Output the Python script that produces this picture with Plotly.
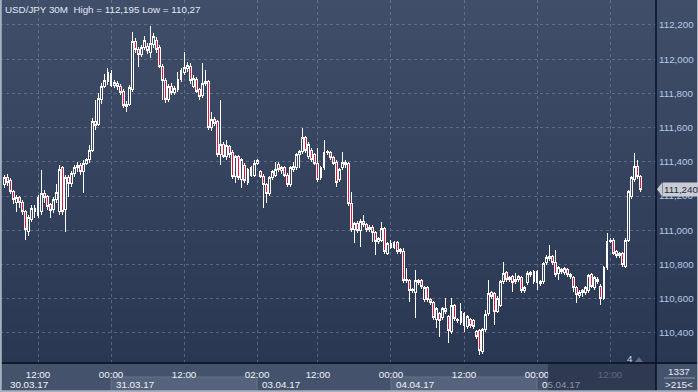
import plotly.graph_objects as go

# ---------------- data (USD/JPY, 30-minute candles) ----------------
opens = [
    111.265, 111.306, 111.288, 111.224, 111.165, 111.189, 111.160, 111.107, 110.990, 111.060,
    111.130, 111.089, 111.107, 111.212, 111.195, 111.148, 111.119, 111.177, 111.107, 111.364,
    111.119, 111.306, 111.271, 111.329, 111.364, 111.376, 111.341, 111.393, 111.411, 111.469,
    111.633, 111.621, 111.762, 111.843, 111.867, 111.919, 111.849, 111.855, 111.843, 111.814,
    111.721, 111.738, 111.820, 112.101, 112.054, 112.030, 112.066, 112.077, 112.042, 112.083,
    112.112, 112.066, 111.960, 111.873, 111.762, 111.843, 111.808, 111.820, 111.884, 111.925,
    111.943, 111.960, 111.843, 111.884, 111.820, 111.785, 111.855, 111.867, 111.598, 111.645,
    111.633, 111.440, 111.504, 111.429, 111.487, 111.452, 111.312, 111.429, 111.294, 111.376,
    111.277, 111.364, 111.323, 111.393, 111.341, 111.317, 111.265, 111.212, 111.306, 111.323,
    111.382, 111.347, 111.364, 111.323, 111.265, 111.353, 111.364, 111.440, 111.458, 111.540,
    111.429, 111.469, 111.440, 111.393, 111.306, 111.364, 111.452, 111.452, 111.423, 111.399,
    111.294, 111.364, 111.399, 111.388, 111.154, 111.002, 111.037, 110.996, 111.054, 111.031,
    111.002, 111.019, 110.984, 110.932, 110.943, 111.008, 110.867, 110.920, 110.902, 110.926,
    110.873, 110.873, 110.704, 110.704, 110.645, 110.639, 110.704, 110.704, 110.593, 110.663,
    110.593, 110.575, 110.476, 110.511, 110.488, 110.540, 110.493, 110.406, 110.558, 110.476,
    110.523, 110.511, 110.435, 110.476, 110.470, 110.406, 110.412, 110.289, 110.417, 110.511,
    110.634, 110.628, 110.528, 110.563, 110.698, 110.751, 110.710, 110.727, 110.698, 110.710,
    110.721, 110.645, 110.692, 110.739, 110.698, 110.756, 110.686, 110.698, 110.809, 110.832,
    110.844, 110.809, 110.745, 110.768, 110.751, 110.768, 110.739, 110.721, 110.663, 110.616,
    110.639, 110.634, 110.645, 110.739, 110.663, 110.715, 110.674, 110.604, 110.780, 110.937,
    110.943, 110.873, 110.850, 110.862, 110.791, 110.943, 111.195, 111.294, 111.370, 111.312,
]
highs = [
    111.323, 111.329, 111.306, 111.236, 111.206, 111.201, 111.177, 111.119, 111.089, 111.148,
    111.148, 111.206, 111.353, 111.236, 111.206, 111.160, 111.195, 111.271, 111.382, 111.376,
    111.323, 111.323, 111.347, 111.382, 111.399, 111.393, 111.411, 111.423, 111.499, 111.656,
    111.762, 111.803, 111.861, 111.914, 111.949, 111.937, 111.878, 111.873, 111.855, 111.826,
    111.756, 111.849, 112.159, 112.124, 112.071, 112.083, 112.136, 112.095, 112.195, 112.153,
    112.130, 112.083, 111.972, 111.890, 111.855, 111.861, 111.843, 111.925, 111.949, 112.042,
    111.984, 111.978, 111.908, 111.896, 111.832, 111.978, 111.937, 111.878, 111.692, 111.662,
    111.645, 111.762, 111.516, 111.528, 111.499, 111.469, 111.440, 111.440, 111.423, 111.393,
    111.364, 111.376, 111.411, 111.417, 111.353, 111.329, 111.277, 111.317, 111.353, 111.399,
    111.399, 111.376, 111.376, 111.335, 111.376, 111.399, 111.452, 111.469, 111.598, 111.551,
    111.516, 111.481, 111.452, 111.481, 111.376, 111.528, 111.469, 111.464, 111.434, 111.411,
    111.364, 111.458, 111.411, 111.399, 111.224, 111.048, 111.054, 111.066, 111.089, 111.043,
    111.031, 111.031, 110.996, 110.961, 111.048, 111.019, 110.932, 110.943, 110.937, 110.937,
    110.897, 110.897, 110.780, 110.715, 110.663, 110.768, 110.715, 110.715, 110.674, 110.674,
    110.604, 110.587, 110.552, 110.523, 110.552, 110.604, 110.505, 110.604, 110.569, 110.488,
    110.575, 110.523, 110.505, 110.488, 110.482, 110.417, 110.423, 110.429, 110.534, 110.710,
    110.645, 110.639, 110.616, 110.710, 110.815, 110.762, 110.733, 110.739, 110.751, 110.739,
    110.733, 110.674, 110.762, 110.762, 110.768, 110.768, 110.710, 110.815, 110.856, 110.914,
    110.856, 110.885, 110.791, 110.780, 110.786, 110.780, 110.751, 110.733, 110.674, 110.651,
    110.657, 110.674, 110.745, 110.751, 110.733, 110.727, 110.686, 110.791, 110.984, 110.955,
    110.955, 110.885, 110.873, 110.873, 110.955, 111.236, 111.317, 111.452, 111.411, 111.323,
]
lows = [
    111.247, 111.259, 111.212, 111.154, 111.107, 111.130, 111.089, 110.943, 110.967, 111.048,
    111.072, 111.072, 111.089, 111.160, 111.119, 111.072, 111.101, 111.160, 111.089, 111.089,
    110.990, 111.195, 111.253, 111.312, 111.341, 111.323, 111.218, 111.382, 111.393, 111.458,
    111.586, 111.610, 111.738, 111.832, 111.849, 111.838, 111.832, 111.820, 111.791, 111.715,
    111.692, 111.727, 111.808, 112.036, 111.954, 112.013, 112.054, 112.030, 112.007, 112.066,
    112.036, 111.949, 111.762, 111.744, 111.750, 111.791, 111.791, 111.808, 111.867, 111.908,
    111.925, 111.855, 111.832, 111.803, 111.762, 111.773, 111.843, 111.586, 111.580, 111.610,
    111.429, 111.382, 111.423, 111.411, 111.423, 111.300, 111.277, 111.294, 111.247, 111.277,
    111.265, 111.312, 111.312, 111.382, 111.306, 111.130, 111.160, 111.201, 111.294, 111.312,
    111.341, 111.329, 111.312, 111.253, 111.253, 111.341, 111.353, 111.364, 111.446, 111.452,
    111.417, 111.399, 111.382, 111.282, 111.294, 111.353, 111.440, 111.411, 111.382, 111.253,
    111.282, 111.353, 111.364, 111.142, 110.990, 110.926, 110.984, 110.902, 111.019, 110.990,
    110.990, 110.932, 110.856, 110.920, 110.932, 110.862, 110.856, 110.891, 110.891, 110.862,
    110.862, 110.692, 110.692, 110.581, 110.634, 110.488, 110.680, 110.657, 110.581, 110.581,
    110.563, 110.476, 110.429, 110.377, 110.476, 110.511, 110.341, 110.394, 110.470, 110.458,
    110.447, 110.406, 110.423, 110.429, 110.423, 110.365, 110.270, 110.277, 110.406, 110.499,
    110.598, 110.447, 110.517, 110.552, 110.686, 110.698, 110.698, 110.639, 110.686, 110.698,
    110.634, 110.634, 110.680, 110.727, 110.686, 110.651, 110.674, 110.686, 110.797, 110.821,
    110.797, 110.727, 110.710, 110.745, 110.739, 110.727, 110.715, 110.639, 110.575, 110.604,
    110.610, 110.622, 110.634, 110.663, 110.651, 110.686, 110.563, 110.593, 110.768, 110.926,
    110.856, 110.838, 110.838, 110.786, 110.780, 110.932, 111.183, 111.282, 111.300, 111.224,
]
closes = [
    111.306, 111.282, 111.224, 111.177, 111.189, 111.160, 111.107, 111.002, 111.072, 111.130,
    111.107, 111.189, 111.212, 111.189, 111.136, 111.113, 111.177, 111.218, 111.353, 111.107,
    111.306, 111.271, 111.329, 111.364, 111.376, 111.341, 111.393, 111.411, 111.469, 111.633,
    111.610, 111.773, 111.843, 111.878, 111.925, 111.849, 111.861, 111.843, 111.808, 111.727,
    111.738, 111.832, 112.101, 112.054, 112.030, 112.066, 112.112, 112.048, 112.089, 112.130,
    112.054, 111.960, 111.873, 111.762, 111.843, 111.808, 111.826, 111.884, 111.931, 111.949,
    111.966, 111.873, 111.890, 111.814, 111.779, 111.855, 111.867, 111.598, 111.645, 111.627,
    111.440, 111.499, 111.434, 111.493, 111.440, 111.312, 111.429, 111.306, 111.411, 111.288,
    111.353, 111.323, 111.393, 111.405, 111.317, 111.265, 111.212, 111.306, 111.341, 111.358,
    111.353, 111.364, 111.323, 111.265, 111.364, 111.370, 111.440, 111.458, 111.540, 111.464,
    111.504, 111.411, 111.393, 111.294, 111.364, 111.452, 111.458, 111.423, 111.393, 111.282,
    111.353, 111.399, 111.382, 111.154, 111.002, 111.037, 110.996, 111.054, 111.031, 111.002,
    111.019, 110.984, 110.932, 110.949, 111.008, 110.873, 110.920, 110.902, 110.926, 110.873,
    110.885, 110.704, 110.710, 110.645, 110.651, 110.704, 110.692, 110.669, 110.663, 110.593,
    110.575, 110.488, 110.540, 110.470, 110.540, 110.523, 110.412, 110.558, 110.482, 110.470,
    110.458, 110.441, 110.493, 110.441, 110.435, 110.377, 110.295, 110.417, 110.505, 110.628,
    110.610, 110.528, 110.604, 110.698, 110.745, 110.710, 110.721, 110.692, 110.715, 110.727,
    110.645, 110.663, 110.745, 110.751, 110.756, 110.692, 110.698, 110.803, 110.838, 110.844,
    110.809, 110.739, 110.780, 110.756, 110.774, 110.739, 110.727, 110.663, 110.622, 110.639,
    110.645, 110.663, 110.733, 110.674, 110.721, 110.698, 110.604, 110.780, 110.937, 110.943,
    110.867, 110.850, 110.862, 110.797, 110.943, 111.224, 111.306, 111.370, 111.312, 111.240,
]

time_tick_idx = [11, 35, 59, 83, 103, 127, 151, 175, 199]
time_tick_text = ["12:00", "00:00", "12:00", "02:00", "12:00", "00:00", "12:00", "00:00", "12:00"]
date_idx = [0, 35, 83, 127, 175]
date_text = ["30.03.17", "31.03.17", "03.04.17", "04.04.17", "05.04.17"]
price_ticks = [110.4, 110.6, 110.8, 111.0, 111.2, 111.4, 111.6, 111.8, 112.0, 112.2]
symbol = "USD/JPY 30M"

# ---------------- layout constants ----------------
W, H = 698, 392
ML, MR, MT, MB = 0, 42, 0, 29
PW, PH = W - ML - MR, H - MT - MB
XMIN, XMAX = -1.49, 214.1
YMIN, YMAX = 110.224, 112.346
FONT = "Liberation Sans, Arial, sans-serif"
FS = 9.8


def fmt(v, nd=3, strip=False):
    s = f"{v:.{nd}f}"
    if strip:
        s = s.rstrip("0")
    return s.replace(".", ",")


def xp(i):
    return (i - XMIN) / (XMAX - XMIN)


def yp_px(py):
    return (PH - py) / PH


def xp_px(px):
    return px / PW


idx = list(range(len(closes)))

fig = go.Figure()
fig.add_trace(go.Candlestick(
    x=idx, open=opens, high=highs, low=lows, close=closes,
    increasing=dict(line=dict(color="#ffffff", width=1), fillcolor="#35435f"),
    decreasing=dict(line=dict(color="#ffffff", width=1), fillcolor="#e8143c"),
    whiskerwidth=0, hoverinfo="skip", showlegend=False,
))

shapes = []
# background gradient (plot + right scale panel)
top = (64, 78, 106)
bot = (42, 55, 83)
N = 45
for k in range(N):
    t = (k + 0.5) / N
    c = tuple(round(top[j] + (bot[j] - top[j]) * t) for j in range(3))
    shapes.append(dict(type="rect", xref="paper", yref="paper", x0=0, x1=W / PW,
                       y0=1 - (k + 1) / N - 0.003, y1=1 - k / N,
                       fillcolor="rgb(%d,%d,%d)" % c, line=dict(width=0), layer="below"))

# day boxes in time panel
for a, b in [(date_idx[1], date_idx[2]), (date_idx[3], date_idx[4])]:
    shapes.append(dict(type="rect", xref="paper", yref="paper", x0=xp(a), x1=xp(b),
                       y0=yp_px(391), y1=yp_px(377), fillcolor="#56637c",
                       line=dict(color="#67738b", width=1), layer="below"))

# dark overlay on time panel (right part)
shapes.append(dict(type="rect", xref="paper", yref="paper", x0=xp_px(548), x1=1,
                   y0=yp_px(392), y1=yp_px(364), fillcolor="rgba(38,48,70,0.72)",
                   line=dict(width=0), layer="above"))

# separators
shapes.append(dict(type="line", xref="paper", yref="paper", x0=0, x1=W / PW, y0=0, y1=0,
                   line=dict(color="#0b1020", width=1.5), layer="above"))
shapes.append(dict(type="line", xref="paper", yref="paper", x0=1, x1=1, y0=yp_px(392), y1=1,
                   line=dict(color="#0b1020", width=1.5), layer="above"))
# small separator in corner box
shapes.append(dict(type="line", xref="paper", yref="paper", x0=xp_px(664), x1=xp_px(695),
                   y0=yp_px(378), y1=yp_px(378), line=dict(color="#8d98aa", width=1), layer="above"))

# outer frame (left, right, bottom)
shapes.append(dict(type="line", xref="paper", yref="paper", x0=xp_px(0.8), x1=xp_px(0.8),
                   y0=yp_px(392), y1=1, line=dict(color="#a7b0be", width=2), layer="above"))
shapes.append(dict(type="line", xref="paper", yref="paper", x0=xp_px(697.5), x1=xp_px(697.5),
                   y0=yp_px(392), y1=1, line=dict(color="#a7b0be", width=1), layer="above"))
shapes.append(dict(type="line", xref="paper", yref="paper", x0=0, x1=W / PW,
                   y0=yp_px(391.2), y1=yp_px(391.2), line=dict(color="#a7b0be", width=2), layer="above"))

# last price marker notch
last = closes[-1]
ylast = (last - YMIN) / (YMAX - YMIN)
dy = 6.5 / PH
shapes.append(dict(type="path", xref="paper", yref="paper",
                   path=f"M {xp_px(657)},{ylast} L {xp_px(662)},{ylast + dy} L {xp_px(662)},{ylast - dy} Z",
                   fillcolor="#c9cdd3", line=dict(width=0), layer="above"))
# small triangle next to counter
shapes.append(dict(type="path", xref="paper", yref="paper",
                   path=f"M {xp_px(635)},{yp_px(362)} L {xp_px(643)},{yp_px(362)} L {xp_px(639)},{yp_px(357)} Z",
                   fillcolor="#5f6c84", line=dict(width=0), layer="above"))

annotations = []
annotations.append(dict(xref="paper", yref="paper", x=xp_px(3), y=yp_px(9), xanchor="left",
                        yanchor="middle", showarrow=False,
                        text=f"{symbol}\u00a0 High = {fmt(max(highs))} Low = {fmt(min(lows), strip=True)}",
                        font=dict(family=FONT, size=FS, color="#e2e8f0")))
for k, (i, t) in enumerate(zip(date_idx, date_text)):
    txt = t if k < len(date_text) - 1 else t[0] + "<span style='color:#8a96aa'>" + t[1:] + "</span>"
    annotations.append(dict(xref="x", yref="paper", x=i + 1.1, y=yp_px(384), xanchor="left",
                            yanchor="middle", showarrow=False, text=txt,
                            font=dict(family=FONT, size=FS, color="#eef2f8")))
annotations.append(dict(xref="paper", yref="paper", x=xp_px(661.5), y=ylast, xanchor="left",
                        yanchor="middle", showarrow=False, text=fmt(last),
                        bgcolor="#c9cdd3", borderpad=1,
                        font=dict(family=FONT, size=FS, color="#1d2940")))
annotations.append(dict(xref="paper", yref="paper", x=xp_px(630), y=yp_px(358), xanchor="center",
                        yanchor="middle", showarrow=False, text="4",
                        font=dict(family=FONT, size=FS, color="#c7d6ea")))
annotations.append(dict(xref="paper", yref="paper", x=xp_px(679), y=yp_px(371), xanchor="center",
                        yanchor="middle", showarrow=False, text="1337",
                        font=dict(family=FONT, size=FS, color="#e6ecf4")))
annotations.append(dict(xref="paper", yref="paper", x=xp_px(679), y=yp_px(384), xanchor="center",
                        yanchor="middle", showarrow=False, text="&gt;215&lt;",
                        font=dict(family=FONT, size=FS, color="#e6ecf4")))

fig.update_layout(
    template="none",
    width=W, height=H,
    margin=dict(l=ML, r=MR, t=MT, b=MB, pad=0),
    paper_bgcolor="#45526c",
    plot_bgcolor="rgba(0,0,0,0)",
    separators=",.",
    showlegend=False,
    dragmode=False,
    boxgap=0.1,
    shapes=shapes,
    annotations=annotations,
    font=dict(family=FONT, size=FS),
    xaxis=dict(
        range=[XMIN, XMAX], rangeslider=dict(visible=False),
        tickmode="array", tickvals=time_tick_idx, ticktext=time_tick_text,
        showgrid=True, gridcolor="rgba(128,143,170,0.5)", gridwidth=1, griddash="3px,3px",
        zeroline=False, showline=False, ticks="", automargin=False,
        ticklabelstandoff=4,
        tickfont=dict(family=FONT, size=FS, color="#eef2f8"),
    ),
    yaxis=dict(
        range=[YMIN, YMAX], side="right",
        tickmode="array", tickvals=price_ticks, tickformat=".3f",
        showgrid=True, gridcolor="rgba(128,143,170,0.5)", gridwidth=1, griddash="3px,3px",
        zeroline=False, showline=False, ticks="", automargin=False,
        ticklabelstandoff=2,
        tickfont=dict(family=FONT, size=FS, color="#b5cae8"),
    ),
)

fig.write_html(
    "out.html",
    config={"displayModeBar": False, "staticPlot": True},
    post_script=(
        "document.body.style.margin='0px';document.body.style.overflow='hidden';"
        "document.querySelectorAll('.boxlayer path').forEach(function(p){p.style.shapeRendering='crispEdges';});"
    ),
)
